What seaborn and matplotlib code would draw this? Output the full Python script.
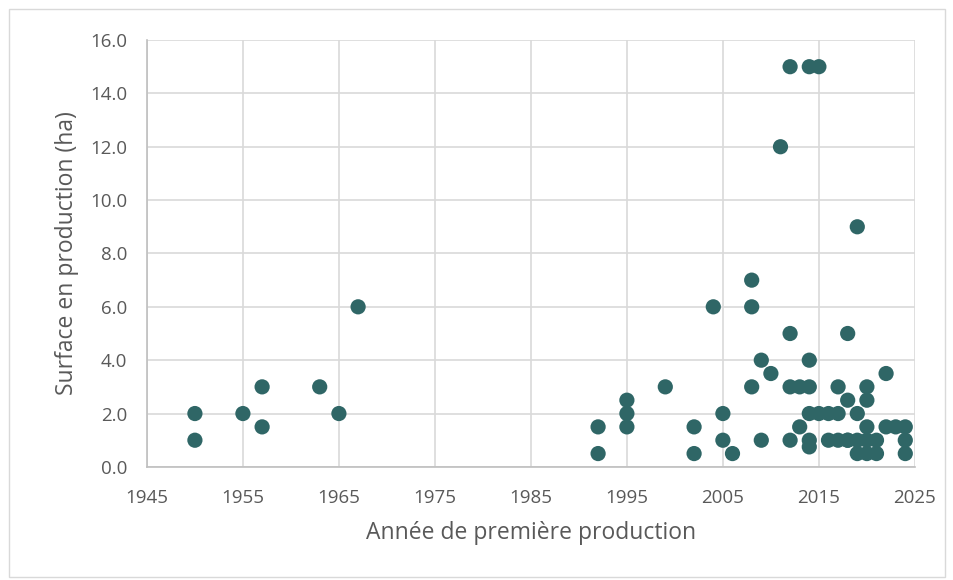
import pandas as pd
import matplotlib.pyplot as plt
import seaborn as sns
from matplotlib.patches import Rectangle

# Données
annees = [1950, 1950, 1955, 1957, 1957, 1963, 1965, 1967,
          1992, 1992, 1995, 1995, 1995, 1999,
          2002, 2002, 2004, 2005, 2005, 2006,
          2008, 2008, 2008, 2009, 2009, 2010,
          2011, 2012, 2012, 2012, 2012, 2013, 2013,
          2014, 2014, 2014, 2014, 2014, 2014, 2015, 2015,
          2016, 2016, 2017, 2017, 2017,
          2018, 2018, 2018, 2018, 2019, 2019, 2019, 2019,
          2020, 2020, 2020, 2020, 2020, 2021, 2021,
          2022, 2022, 2023, 2024, 2024, 2024]
surfaces = [2.0, 1.0, 2.0, 3.0, 1.5, 3.0, 2.0, 6.0,
            1.5, 0.5, 2.5, 2.0, 1.5, 3.0,
            1.5, 0.5, 6.0, 2.0, 1.0, 0.5,
            7.0, 6.0, 3.0, 4.0, 1.0, 3.5,
            12.0, 15.0, 5.0, 3.0, 1.0, 3.0, 1.5,
            15.0, 4.0, 3.0, 2.0, 1.0, 0.75, 15.0, 2.0,
            2.0, 1.0, 3.0, 2.0, 1.0,
            5.0, 2.5, 1.0, 1.0, 9.0, 2.0, 1.0, 0.5,
            3.0, 2.5, 1.5, 1.0, 0.5, 1.0, 0.5,
            3.5, 1.5, 1.5, 1.5, 1.0, 0.5]

dados = pd.DataFrame({'annee': annees, 'surface': surfaces})

sns.set_style('white')
plt.rcParams['font.family'] = ['Open Sans', 'DejaVu Sans']

gris = '#595959'
fig = plt.figure(figsize=(9.54, 5.8), dpi=100)
ax = fig.add_axes([0.154, 0.195, 0.805, 0.736])

sns.scatterplot(data=dados, x='annee', y='surface', ax=ax, s=120,
                color='#2f6666', edgecolor='none', zorder=3)

ax.set_xlim(1945, 2025)
ax.set_ylim(0, 16)
ax.set_xticks(range(1945, 2026, 10))
ax.set_yticks(range(0, 17, 2))
ax.set_yticklabels([f'{v:.1f}' for v in range(0, 17, 2)])
ax.grid(True, color='#d9d9d9', linewidth=1.2)
ax.set_axisbelow(True)
for side in ['top', 'right']:
    ax.spines[side].set_visible(False)
for side in ['left', 'bottom']:
    ax.spines[side].set_color('#bfbfbf')
    ax.spines[side].set_linewidth(1.2)
ax.tick_params(axis='both', length=0, labelsize=13.5, labelcolor=gris)
ax.tick_params(axis='x', pad=16)
ax.tick_params(axis='y', pad=14)
ax.set_xlabel('Année de première production', fontsize=16.5, color=gris, labelpad=10)
ax.set_ylabel('Surface en production (ha)', fontsize=16.5, color=gris, labelpad=8)

# bordure de la zone du graphique
fig.patches.append(Rectangle((0.009, 0.005), 0.982, 0.979, transform=fig.transFigure,
                             fill=False, edgecolor='#d9d9d9', linewidth=1))

fig.savefig('out.png', dpi=100)
